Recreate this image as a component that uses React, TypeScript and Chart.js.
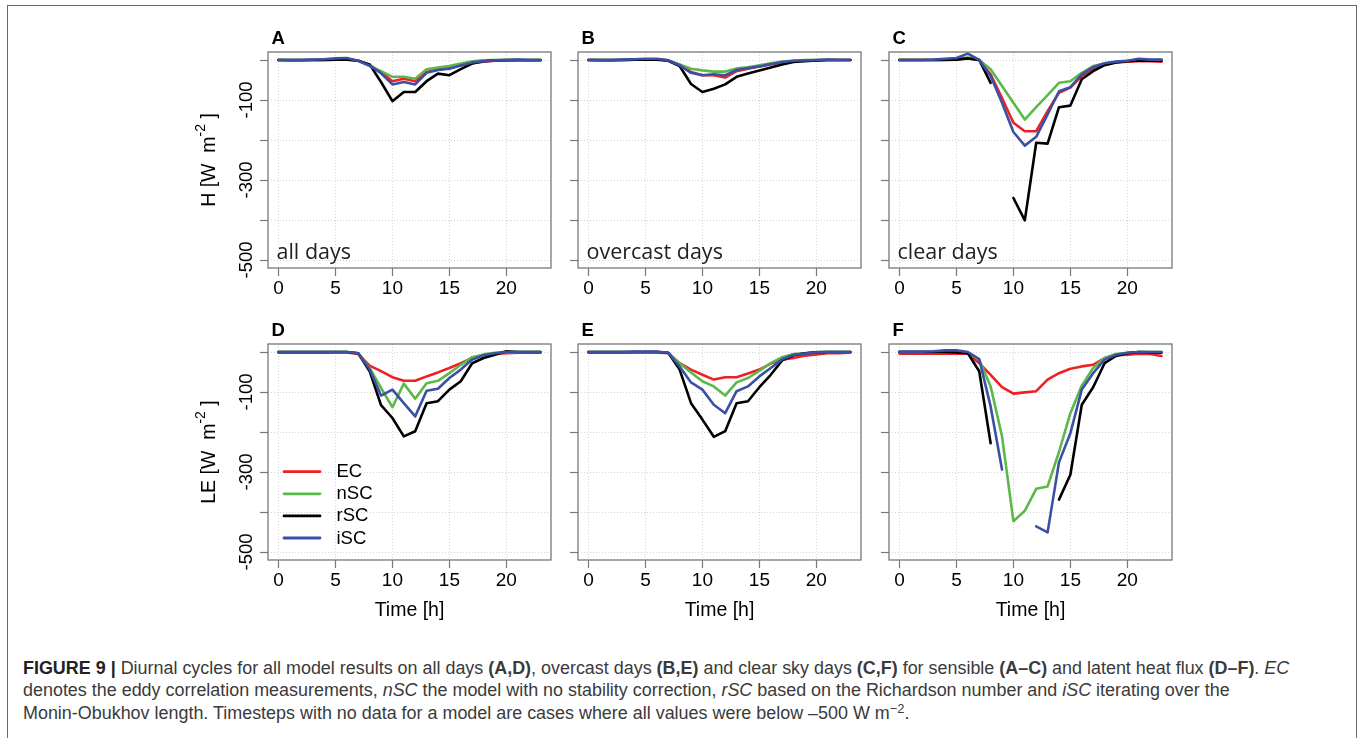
import React, { useEffect, useLayoutEffect, useRef } from "react";
import { Chart, registerables } from "chart.js";

Chart.register(...registerables);

// ---------- data ----------
const hours = [0, 1, 2, 3, 4, 5, 6, 7, 8, 9, 10, 11, 12, 13, 14, 15, 16, 17, 18, 19, 20, 21, 22, 23];
const seriesLabels = ["EC", "nSC", "rSC", "iSC"];
const seriesColors = ["#ee2024", "#5cb848", "#000000", "#3b50a5"];

const xTickValues = [0, 5, 10, 15, 20];
const yTickValues = [0, -100, -200, -300, -400, -500];
const yTickLabels = ["", "-100", "", "-300", "", "-500"];

const panelLetters = ["A", "B", "C", "D", "E", "F"];
const panelNotes = ["all days", "overcast days", "clear days", "", "", ""];
const rowQuantities = ["H", "LE"];
const xTitle = "Time [h]";

// A: sensible heat, all days
const A_EC = [0, -1, -1, 0, 0, 1, 2, -2, -13, -30, -53, -47, -53, -30, -24, -20, -14, -8, -4, -2, -2, -1, -1, -1];
const A_nSC = [0, 0, 0, 0, 1, 2, 3, -2, -15, -28, -42, -42, -47, -23, -19, -15, -9, -3, -1, 0, 0, 0, 0, 0];
const A_rSC = [0, 0, 0, 0, 0, 1, 1, -2, -11, -55, -103, -80, -80, -53, -34, -38, -23, -9, -3, -1, 0, 0, 0, 0];
const A_iSC = [0, 0, 0, 1, 2, 4, 5, -2, -14, -33, -61, -55, -61, -32, -25, -22, -14, -6, -3, -1, 0, 1, 0, 0];

// B: sensible heat, overcast days
const B_EC = [0, -1, -1, 0, 1, 2, 2, -1, -12, -30, -38, -38, -44, -28, -22, -16, -11, -6, -3, -2, -1, 0, 0, 0];
const B_nSC = [0, 0, 0, 0, 1, 2, 2, -1, -11, -22, -26, -29, -29, -21, -18, -13, -8, -4, -2, 0, 0, 0, 0, 0];
const B_rSC = [0, 0, 0, 0, 1, 1, 1, -2, -15, -60, -80, -72, -61, -42, -34, -26, -19, -11, -5, -3, -1, 0, 0, 0];
const B_iSC = [0, 0, 0, 1, 2, 3, 3, -1, -13, -32, -38, -36, -38, -25, -20, -16, -10, -5, -2, -1, 0, 1, 0, 0];

// C: sensible heat, clear days
const C_EC = [0, 0, 0, 0, 1, 2, 4, 0, -36, -95, -157, -178, -178, -128, -82, -69, -40, -22, -11, -6, -4, -3, -3, -4];
const C_nSC = [0, 0, 0, 0, 1, 3, 6, 0, -23, -65, -107, -149, -118, -88, -57, -53, -32, -15, -9, -5, -2, 0, 0, 0];
const C_rSC = [0, 0, 0, 0, 0, 1, 4, 0, -57, null, -345, -401, -207, -209, -118, -114, -48, -28, -13, -6, -3, -1, -2, -2];
const C_iSC = [0, 0, 0, 1, 3, 5, 16, 0, -40, -107, -180, -214, -192, -136, -78, -68, -36, -18, -8, -4, -2, 3, 1, 1];

// D: latent heat, all days
const D_EC = [-2, -2, -2, -2, -2, -1, -1, -5, -34, -48, -63, -72, -72, -61, -51, -40, -28, -15, -8, -5, -3, -2, -2, -2];
const D_nSC = [0, 0, 0, 0, 0, 0, 0, -3, -40, -90, -138, -79, -117, -78, -72, -53, -32, -13, -6, -2, 0, 0, 0, 0];
const D_rSC = [0, 0, 0, 0, 0, 0, 0, -3, -48, -133, -165, -211, -198, -128, -123, -94, -73, -28, -15, -7, 2, 0, 0, 0];
const D_iSC = [0, 0, 0, 0, 0, 0, 0, -3, -43, -109, -94, -128, -161, -97, -92, -65, -44, -19, -8, -3, 0, 0, 0, 0];

// E: latent heat, overcast days
const E_EC = [-2, -2, -2, -2, -1, -1, -1, -3, -28, -44, -57, -69, -63, -63, -54, -44, -29, -19, -15, -9, -6, -3, -3, -1];
const E_nSC = [0, 0, 0, 0, 0, 0, 0, -2, -28, -51, -73, -86, -109, -76, -65, -47, -28, -13, -5, -3, 0, 0, 0, 0];
const E_rSC = [0, 0, 0, 0, 0, 0, 0, -2, -44, -128, -169, -212, -198, -128, -123, -88, -57, -21, -8, -3, -1, 0, 0, 0];
const E_iSC = [0, 0, 0, 0, 1, 1, 1, -2, -36, -76, -94, -132, -153, -98, -86, -61, -40, -18, -7, -4, -1, 0, 0, 0];

// F: latent heat, clear days
const F_EC = [-4, -4, -4, -4, -4, -4, -4, -28, -57, -88, -104, -101, -98, -69, -53, -42, -36, -32, -15, -8, -7, -4, -5, -10];
const F_nSC = [0, 0, 0, 0, 0, 0, -1, -19, -86, -211, -423, -397, -342, -336, -250, -153, -84, -40, -15, -5, -2, 0, 0, 0];
const F_rSC = [0, 0, 0, 0, 0, -1, -3, -48, -228, null, null, null, null, null, -369, -307, -132, -88, -28, -10, -3, 0, -1, -2];
const F_iSC = [1, 1, 1, 2, 4, 4, 0, -18, -136, -294, null, null, -436, -451, -276, -203, -94, -53, -19, -7, -2, 0, 0, 0];

const panelSeries = [
  [A_EC, A_nSC, A_rSC, A_iSC],
  [B_EC, B_nSC, B_rSC, B_iSC],
  [C_EC, C_nSC, C_rSC, C_iSC],
  [D_EC, D_nSC, D_rSC, D_iSC],
  [E_EC, E_nSC, E_rSC, E_iSC],
  [F_EC, F_nSC, F_rSC, F_iSC],
];

// ---------- layout ----------
const X_MIN = -0.92;
const X_MAX = 23.92;
const Y_MIN = -520;
const Y_MAX = 20;

const BOX_W = 283;
const BOX_H = 216;
const BOX_LEFTS = [268, 578, 889];
const BOX_TOPS = [52, 344];
const PAD_L = 75;
const PAD_T = 42;
const PAD_R = 6;
const PAD_B = 66;

const ARIAL = '"Liberation Sans", Arial, Helvetica, sans-serif';

const decorPlugin = {
  id: "decor",
  afterDraw(chart: any, _args: any, opts: any) {
    const { ctx, chartArea: a } = chart;
    ctx.save();
    ctx.setLineDash([]);
    // plot box
    ctx.strokeStyle = "#787878";
    ctx.lineWidth = 1.3;
    ctx.strokeRect(a.left, a.top, a.right - a.left, a.bottom - a.top);

    // panel letter
    ctx.fillStyle = "#000";
    ctx.font = `bold 18.5px ${ARIAL}`;
    ctx.textAlign = "left";
    ctx.textBaseline = "alphabetic";
    ctx.fillText(opts.letter, a.left + 3.5, a.top - 8.5);

    // in-panel note
    if (opts.note) {
      ctx.font = `21.5px "Open Sans", "Noto Sans", sans-serif`;
      ctx.fillStyle = "#222";
      ctx.fillText(opts.note, a.left + 8.5, a.bottom - 9);
    }

    if (opts.showY) {
      const ys = chart.scales.y;
      // rotated tick labels
      ctx.fillStyle = "#000";
      ctx.font = `18.5px ${ARIAL}`;
      ctx.textAlign = "center";
      ctx.textBaseline = "middle";
      ys.ticks.forEach((t: any) => {
        const idx = yTickValues.indexOf(t.value);
        const lab = idx >= 0 ? yTickLabels[idx] : "";
        if (!lab) return;
        const py = ys.getPixelForValue(t.value);
        ctx.save();
        ctx.translate(a.left - 21.3, py);
        ctx.rotate(-Math.PI / 2);
        ctx.fillText(lab, 0, 0);
        ctx.restore();
      });

      // axis title with superscript
      const main1 = `${opts.quantity} [W  m`;
      const sup = "-2";
      const main2 = " ]";
      const fMain = `19.5px ${ARIAL}`;
      const fSup = `14px ${ARIAL}`;
      ctx.font = fMain;
      const w1 = ctx.measureText(main1).width;
      const w3 = ctx.measureText(main2).width;
      ctx.font = fSup;
      const w2 = ctx.measureText(sup).width;
      const total = w1 + w2 + w3;
      ctx.save();
      ctx.translate(a.left - 58, (a.top + a.bottom) / 2);
      ctx.rotate(-Math.PI / 2);
      ctx.textAlign = "left";
      ctx.textBaseline = "middle";
      let x0 = -total / 2;
      ctx.font = fMain;
      ctx.fillText(main1, x0, 0);
      x0 += w1;
      ctx.font = fSup;
      ctx.fillText(sup, x0, -8.5);
      x0 += w2;
      ctx.font = fMain;
      ctx.fillText(main2, x0, 0);
      ctx.restore();
    }

    if (opts.legend) {
      ctx.font = `18.5px ${ARIAL}`;
      ctx.textAlign = "left";
      ctx.textBaseline = "middle";
      chart.data.datasets.forEach((ds: any, i: number) => {
        const y = a.top + 127.7 + i * 22.1;
        ctx.strokeStyle = ds.borderColor;
        ctx.lineWidth = 2.8;
        ctx.lineCap = "round";
        ctx.beginPath();
        ctx.moveTo(a.left + 16, y);
        ctx.lineTo(a.left + 52, y);
        ctx.stroke();
        ctx.fillStyle = "#000";
        ctx.fillText(ds.label, a.left + 68.5, y + 0.5);
      });
    }
    ctx.restore();
  },
};

function Panel({ index }: { index: number }) {
  const ref = useRef<HTMLCanvasElement>(null);
  const row = Math.floor(index / 3);
  const col = index % 3;
  const W = PAD_L + BOX_W + PAD_R;
  const H = PAD_T + BOX_H + PAD_B;
  const left = BOX_LEFTS[col] - PAD_L;
  const top = BOX_TOPS[row] - PAD_T;

  useEffect(() => {
    if (!ref.current) return;
    const series = panelSeries[index];
    const gridCommon = {
      color: "#d4d4d4",
      lineWidth: 1,
      drawTicks: true,
      tickLength: 8,
      tickColor: "#787878",
      tickWidth: 1.2,
      tickBorderDash: [],
    };
    const chart = new Chart(ref.current, {
      type: "line",
      data: {
        datasets: seriesLabels.map((lab, k) => ({
          label: lab,
          data: hours.map((h, i) => ({ x: h, y: series[k][i] })),
          borderColor: seriesColors[k],
          backgroundColor: seriesColors[k],
          borderWidth: 2.6,
          pointRadius: 0,
          pointHoverRadius: 0,
          tension: 0,
          fill: false,
          spanGaps: false,
          borderJoinStyle: "round",
          borderCapStyle: "round",
          order: 3 - k,
        })),
      },
      options: {
        animation: false,
        responsive: false,
        maintainAspectRatio: false,
        events: [],
        layout: { padding: { left: 0, top: PAD_T, right: PAD_R, bottom: 0 } },
        plugins: {
          legend: { display: false },
          tooltip: { enabled: false },
          decor: {
            letter: panelLetters[index],
            note: panelNotes[index],
            showY: col === 0,
            quantity: rowQuantities[row],
            legend: index === 3,
          },
        } as any,
        scales: {
          x: {
            type: "linear",
            min: X_MIN,
            max: X_MAX,
            afterBuildTicks: (s: any) => {
              s.ticks = xTickValues.map((v) => ({ value: v }));
            },
            afterFit: (s: any) => {
              s.height = PAD_B;
            },
            ticks: {
              font: { family: ARIAL, size: 19 },
              color: "#000",
              padding: 1.5,
              maxRotation: 0,
              minRotation: 0,
              autoSkip: false,
              callback: (v: any) => String(v),
            },
            grid: gridCommon,
            border: { display: false, dash: [1, 2] },
            title: {
              display: row === 1,
              text: xTitle,
              color: "#000",
              font: { family: ARIAL, size: 19.5 },
              padding: { top: 0, bottom: 3.5 },
            },
          },
          y: {
            type: "linear",
            min: Y_MIN,
            max: Y_MAX,
            afterBuildTicks: (s: any) => {
              s.ticks = yTickValues.map((v) => ({ value: v }));
            },
            afterFit: (s: any) => {
              s.width = PAD_L;
            },
            ticks: { display: false },
            grid: gridCommon,
            border: { display: false, dash: [1, 2] },
          },
        },
      } as any,
      plugins: [decorPlugin as any],
    });
    return () => chart.destroy();
  }, [index]);

  return (
    <canvas
      ref={ref}
      width={W}
      height={H}
      style={{ position: "absolute", left, top, width: W, height: H }}
    />
  );
}

const CAPTION_LINE1_WIDTH = 1266;

function Caption() {
  const boxRef = useRef<HTMLDivElement>(null);
  const l1Ref = useRef<HTMLSpanElement>(null);
  useLayoutEffect(() => {
    const apply = () => {
      const el = boxRef.current;
      const l1 = l1Ref.current;
      if (!el || !l1) return;
      const w = l1.offsetWidth;
      if (w > 0) el.style.transform = `scaleX(${CAPTION_LINE1_WIDTH / w})`;
    };
    apply();
    const fonts: any = (document as any).fonts;
    if (fonts && fonts.ready) fonts.ready.then(apply);
  }, []);
  const lineStyle: React.CSSProperties = { display: "block", whiteSpace: "nowrap" };
  const sup: React.CSSProperties = { fontSize: "0.72em", position: "relative", top: "-0.5em", lineHeight: 0 };
  return (
    <div
      ref={boxRef}
      style={{
        position: "absolute",
        left: 23,
        top: 656.5,
        transformOrigin: "0 0",
        fontFamily: ARIAL,
        fontSize: 17.5,
        lineHeight: "22.7px",
        color: "#3a3a3a",
      }}
    >
      <span style={lineStyle}>
        <span ref={l1Ref} style={{ display: "inline-block", whiteSpace: "nowrap" }}>
          <b style={{ color: "#222" }}>FIGURE 9 |</b> Diurnal cycles for all model results on all days <b>(A,D)</b>, overcast days{" "}
          <b>(B,E)</b> and clear sky days <b>(C,F)</b> for sensible <b>(A–C)</b> and latent heat flux <b>(D–F)</b>. <i>EC</i>
        </span>
      </span>
      <span style={lineStyle}>
        denotes the eddy correlation measurements, <i>nSC</i> the model with no stability correction, <i>rSC</i> based on the
        Richardson number and <i>iSC</i> iterating over the
      </span>
      <span style={lineStyle}>
        Monin-Obukhov length. Timesteps with no data for a model are cases where all values were below –500 W m
        <span style={sup}>−2</span>.
      </span>
    </div>
  );
}

export default function App() {
  return (
    <div
      style={{
        position: "absolute",
        left: 0,
        top: 0,
        width: 1360,
        height: 738,
        overflow: "hidden",
        background: "#fff",
      }}
    >
      <div
        style={{
          position: "absolute",
          left: 7,
          top: 5,
          width: 1350,
          height: 800,
          border: "1.5px solid #6a6a6a",
          boxSizing: "border-box",
        }}
      />
      {[0, 1, 2, 3, 4, 5].map((i) => (
        <Panel key={i} index={i} />
      ))}
      <Caption />
    </div>
  );
}
